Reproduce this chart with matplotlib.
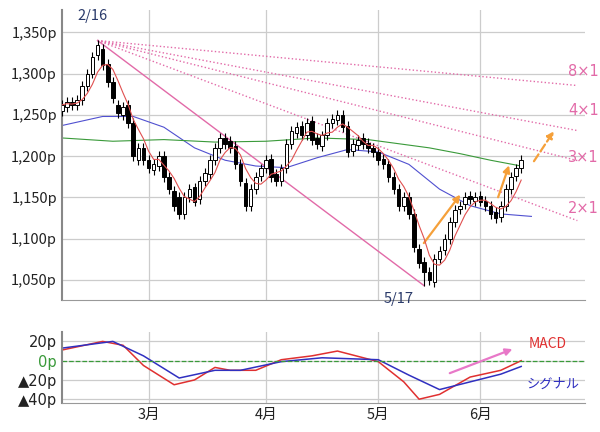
import numpy as np
import pandas as pd
import matplotlib
matplotlib.use("Agg")
from matplotlib import pyplot as plt

plt.rcParams['font.family'] = ['Noto Sans CJK JP', 'DejaVu Sans']

# trading-day index; month ticks at first trading day
month_idx = [17, 40, 62, 82]
month_lbl = ['3月', '4月', '5月', '6月']

closes = [1262, 1265, 1262, 1268, 1285, 1300, 1320, 1335,
          1310, 1290, 1270, 1252, 1260, 1240, 1200, 1210,
          1195, 1185, 1190, 1200, 1175, 1160, 1140, 1130, 1150, 1160, 1145, 1170,
          1180, 1195, 1210, 1222, 1215, 1210, 1190, 1170, 1140, 1160, 1175,
          1185, 1195, 1175, 1170, 1185, 1215, 1230, 1235, 1225, 1240, 1220, 1215,
          1225, 1240, 1245, 1250, 1235, 1205, 1215, 1220,
          1215, 1210, 1205, 1195, 1190, 1175, 1160, 1140, 1150, 1130, 1090, 1070,
          1060, 1050, 1075, 1085, 1100, 1120, 1135, 1140, 1150, 1148, 1150,
          1145, 1140, 1130, 1125, 1140, 1160, 1175, 1185, 1195]
opens = [1255, 1260, 1266, 1262, 1268, 1285, 1300, 1322,
         1330, 1312, 1290, 1262, 1250, 1262, 1240, 1195,
         1210, 1195, 1183, 1188, 1200, 1175, 1158, 1150, 1130, 1150, 1162, 1148,
         1170, 1178, 1195, 1210, 1222, 1218, 1212, 1190, 1168, 1140, 1160,
         1176, 1185, 1196, 1178, 1170, 1185, 1215, 1228, 1237, 1225, 1242, 1222,
         1212, 1225, 1240, 1244, 1250, 1236, 1206, 1214,
         1222, 1216, 1210, 1205, 1196, 1190, 1175, 1160, 1140, 1150, 1130, 1088,
         1072, 1060, 1048, 1076, 1086, 1100, 1120, 1136, 1142, 1152, 1146,
         1152, 1146, 1140, 1132, 1126, 1140, 1160, 1176, 1185]
highs = [max(o, c) + 6 for o, c in zip(opens, closes)]
lows = [min(o, c) - 6 for o, c in zip(opens, closes)]
highs[7] = 1340
lows[71] = 1043

# moving averages (index, value)
ma25_x = [0, 8, 14, 20, 26, 32, 38, 44, 50, 56, 62, 68, 74, 80, 86, 92]
ma25_y = [1237, 1248, 1248, 1235, 1210, 1195, 1188, 1186, 1198, 1208, 1205, 1190, 1160, 1140, 1130, 1127]
ma75_x = [0, 10, 20, 30, 40, 50, 60, 66, 72, 78, 84, 90]
ma75_y = [1222, 1218, 1220, 1217, 1218, 1222, 1220, 1215, 1210, 1203, 1195, 1188]

macd_x = [0, 8, 12, 16, 22, 26, 30, 33, 38, 43, 49, 54, 62, 67, 70, 74, 80, 86, 90]
macd_y = [11, 20, 16, -5, -25, -20, -7, -10, -10, 1, 5, 10, -1, -22, -40, -35, -17, -10, 0]
sig_x = [0, 10, 16, 23, 30, 35, 43, 51, 62, 68, 74, 80, 86, 90]
sig_y = [13, 20, 5, -18, -10, -10, -1, 3, 1, -15, -30, -22, -14, -6]

pink = '#e26aa8'
orange = '#f5a03a'

fig = plt.figure(figsize=(6, 4.32), dpi=100)
ax = fig.add_axes([0.103, 0.306, 0.872, 0.671])
ax2 = fig.add_axes([0.103, 0.067, 0.872, 0.165], sharex=ax)

for a in (ax, ax2):
    a.set_facecolor('white')
    for s in ['top', 'right']:
        a.spines[s].set_visible(False)
    a.spines['left'].set_color('#888888')
    a.spines['left'].set_linewidth(1.5)
    a.spines['bottom'].set_color('#999999')
    a.tick_params(length=0, labelsize=10.5, colors='#222222')
    a.grid(True, color='#cccccc', linewidth=0.9)
    a.set_axisbelow(True)

# candles
idx = np.arange(len(closes))
for i in idx:
    o, c, h, l = opens[i], closes[i], highs[i], lows[i]
    ax.vlines(i, l, h, color='black', linewidth=0.8, zorder=3)
    up = c >= o
    ax.bar(i, max(abs(c - o), 1.5), bottom=min(o, c), width=0.7,
           color='white' if up else 'black', edgecolor='black', linewidth=0.7, zorder=4)

red_ma = pd.Series(closes).rolling(5, min_periods=1).mean()
ax.plot(idx, red_ma, color='#e05050', linewidth=0.8, zorder=5)
ax.plot(ma25_x, ma25_y, color='#5050d0', linewidth=0.8, zorder=2)
ax.plot(ma75_x, ma75_y, color='#3a9a3a', linewidth=0.8, zorder=2)

# gann fan from 2/16 high
x0, y0 = 7, 1340
slope = (1043 - y0) / (71 - x0)
ax.plot([x0, 71], [y0, 1043], color=pink, linewidth=1, zorder=2)
for k, lbl, ly in [(2, '2×1', 1137), (3, '3×1', 1198), (4, '4×1', 1255), (8, '8×1', 1302)]:
    xe = 101
    ax.plot([x0, xe], [y0, y0 + slope / k * (xe - x0)], color=pink, linestyle=':', linewidth=1, zorder=2)
    ax.text(99.2, ly, lbl, color=pink, fontsize=10.5, ha='left', va='center',
            family=['DejaVu Sans'])

ax.annotate('', xy=(78.4, 1156), xytext=(70.6, 1092),
            arrowprops=dict(arrowstyle='-|>', color=orange, lw=1.6, mutation_scale=10))
ax.annotate('', xy=(87.8, 1192), xytext=(85.3, 1147),
            arrowprops=dict(arrowstyle='-|>', color=orange, lw=1.6, mutation_scale=10))
ax.annotate('', xy=(96.7, 1233), xytext=(92.2, 1191),
            arrowprops=dict(arrowstyle='-|>', color=orange, lw=1.6, linestyle='--', mutation_scale=10))

ax.text(6, 1370, '2/16', color='#2a3a6a', fontsize=10.5, ha='center', va='center')
ax.text(66, 1027, '5/17', color='#2a3a6a', fontsize=10.5, ha='center', va='center')

ax.set_ylim(1026, 1377)
ax.set_yticks([1050, 1100, 1150, 1200, 1250, 1300, 1350])
ax.set_yticklabels([f'{v:,}p' for v in [1050, 1100, 1150, 1200, 1250, 1300, 1350]])
ax.set_xlim(0, 102.5)
ax.set_xticks(month_idx)
plt.setp(ax.get_xticklabels(), visible=False)

# MACD panel
ax2.plot(macd_x, macd_y, color='#e03030', linewidth=1.1)
ax2.plot(sig_x, sig_y, color='#3030c0', linewidth=1.1)
ax2.axhline(0, color='#3a9a3a', linestyle='--', linewidth=0.9)
ax2.annotate('', xy=(88.8, 13), xytext=(75.5, -14),
             arrowprops=dict(arrowstyle='-|>', color='#e878c8', lw=1.6, mutation_scale=10))
ax2.text(91.5, 17, 'MACD', color='#e03030', fontsize=10, va='center')
ax2.text(91, -24, 'シグナル', color='#3030c0', fontsize=9.5, va='center')
ax2.set_ylim(-44, 30)
ax2.set_yticks([20, 0, -20, -40])
ax2.set_yticklabels(['20p', '0p', '▲20p', '▲40p'], family=['DejaVu Sans'])
ax2.get_yticklabels()[1].set_color('#3a9a3a')
ax2.set_xticks(month_idx)
ax2.set_xticklabels(month_lbl)

fig.savefig('out.png', dpi=100)
